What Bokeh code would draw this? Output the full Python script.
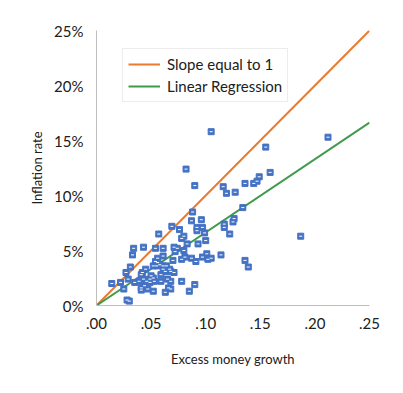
from bokeh.plotting import figure
from bokeh.models import FixedTicker, Range1d, Legend, LegendItem
from bokeh.embed import file_html
from bokeh.resources import INLINE

# Excess money growth (fraction) and inflation rate (percent)
money_growth = [0.105, 0.212, 0.155, 0.082, 0.090, 0.116, 0.119, 0.127, 0.136, 0.144,
                0.147, 0.149, 0.159, 0.134, 0.126, 0.125, 0.117, 0.117, 0.122, 0.088,
                0.087, 0.096, 0.092, 0.097, 0.092, 0.099, 0.100, 0.093, 0.083, 0.101,
                0.097, 0.102, 0.105, 0.114, 0.136, 0.139, 0.187, 0.069, 0.076, 0.057,
                0.080, 0.078, 0.034, 0.043, 0.033, 0.054, 0.061, 0.071, 0.074, 0.072,
                0.080, 0.081, 0.078, 0.061, 0.056, 0.054, 0.056, 0.070, 0.087, 0.091,
                0.031, 0.027, 0.045, 0.042, 0.041, 0.052, 0.055, 0.061, 0.064, 0.061,
                0.067, 0.068, 0.063, 0.050, 0.049, 0.059, 0.029, 0.035, 0.039, 0.043,
                0.046, 0.049, 0.053, 0.059, 0.065, 0.068, 0.078, 0.090, 0.014, 0.022,
                0.025, 0.041, 0.041, 0.044, 0.047, 0.052, 0.066, 0.068, 0.063, 0.085,
                0.028, 0.030, 0.071, 0.058, 0.052]
inflation = [15.8, 15.3, 14.4, 12.4, 10.9, 10.8, 10.2, 10.3, 11.1, 11.1,
             11.3, 11.7, 12.1, 8.9, 7.9, 7.6, 7.4, 7.1, 6.5, 8.5,
             7.7, 7.8, 7.1, 7.1, 6.8, 6.6, 5.9, 5.6, 5.6, 4.7,
             4.4, 4.2, 4.3, 4.6, 4.1, 3.5, 6.3, 7.2, 6.9, 6.5,
             6.3, 6.1, 5.2, 5.3, 4.6, 5.2, 5.2, 5.3, 5.2, 4.9,
             5.0, 4.4, 4.2, 4.5, 4.3, 4.0, 3.9, 4.1, 4.3, 4.0,
             3.5, 3.0, 3.3, 3.0, 2.8, 3.6, 3.6, 3.6, 3.6, 3.3,
             3.3, 3.1, 3.1, 2.7, 2.4, 2.8, 2.4, 2.1, 2.2, 2.4,
             2.2, 2.1, 2.2, 2.2, 2.4, 2.2, 2.2, 1.9, 2.0, 2.1,
             1.5, 1.6, 1.4, 1.8, 1.5, 1.3, 1.6, 1.5, 1.2, 1.3,
             0.5, 0.4, 3.0, 3.7, 2.5]

line_x = [0.0, 0.25]
slope_one = 100.0          # percent per unit of money growth
regression_slope = 66.5    # percent per unit of money growth

x_ticks = [0.0, 0.05, 0.10, 0.15, 0.20, 0.25]
x_tick_labels = [".00", ".05", ".10", ".15", ".20", ".25"]
y_ticks = [0, 5, 10, 15, 20, 25]
y_tick_labels = ["0%", "5%", "10%", "15%", "20%", "25%"]

FONT = "Lato"
TEXT = "#202020"

p = figure(width=387, height=377, output_backend="svg", toolbar_location=None,
           x_range=Range1d(0, 0.25), y_range=Range1d(0, 25),
           min_border_left=96, min_border_right=18, min_border_top=30, min_border_bottom=72)
p.outline_line_color = None
p.grid.visible = False
p.background_fill_color = "white"
p.border_fill_color = "white"

r1 = p.line(line_x, [v * slope_one for v in line_x], line_color="#E97A2E", line_width=2)
r2 = p.line(line_x, [v * regression_slope for v in line_x], line_color="#3E9B4B", line_width=2)
p.scatter(money_growth, inflation, marker="square", size=6,
          fill_color="#4472C4", line_color="#4472C4", line_width=1)
p.scatter(money_growth, inflation, marker="dash", size=3,
          line_color="white", line_width=1)

p.xaxis.ticker = FixedTicker(ticks=x_ticks)
p.xaxis.major_label_overrides = {t: l for t, l in zip(x_ticks, x_tick_labels)}
p.yaxis.ticker = FixedTicker(ticks=y_ticks)
p.yaxis.major_label_overrides = {t: l for t, l in zip(y_ticks, y_tick_labels)}

for ax in (p.xaxis[0], p.yaxis[0]):
    ax.axis_line_color = "#BFBFBF"
    ax.major_tick_line_color = None
    ax.minor_tick_line_color = None
    ax.major_label_text_font = FONT
    ax.major_label_text_font_size = "15px"
    ax.major_label_text_color = TEXT
    ax.axis_label_text_font = FONT
    ax.axis_label_text_font_size = "13px"
    ax.axis_label_text_font_style = "normal"
    ax.axis_label_text_color = TEXT

p.xaxis.axis_label = "Excess money growth"
p.yaxis.axis_label = "Inflation rate"
p.xaxis.major_label_standoff = 6
p.yaxis.major_label_standoff = 7
p.xaxis.axis_label_standoff = 19
p.yaxis.axis_label_standoff = 6

legend = Legend(items=[LegendItem(label="Slope equal to 1", renderers=[r1]),
                       LegendItem(label="Linear Regression", renderers=[r2])],
                location=(26, 203))
legend.label_text_font = FONT
legend.label_text_font_size = "15px"
legend.label_text_color = TEXT
legend.border_line_color = "#D9D9D9"
legend.border_line_width = 1
legend.background_fill_alpha = 1
legend.glyph_width = 32
legend.glyph_height = 20
legend.label_height = 20
legend.spacing = 2
legend.padding = 5
legend.margin = 0
legend.label_standoff = 7
p.add_layout(legend)

open("out.html", "w").write(file_html(p, INLINE))
